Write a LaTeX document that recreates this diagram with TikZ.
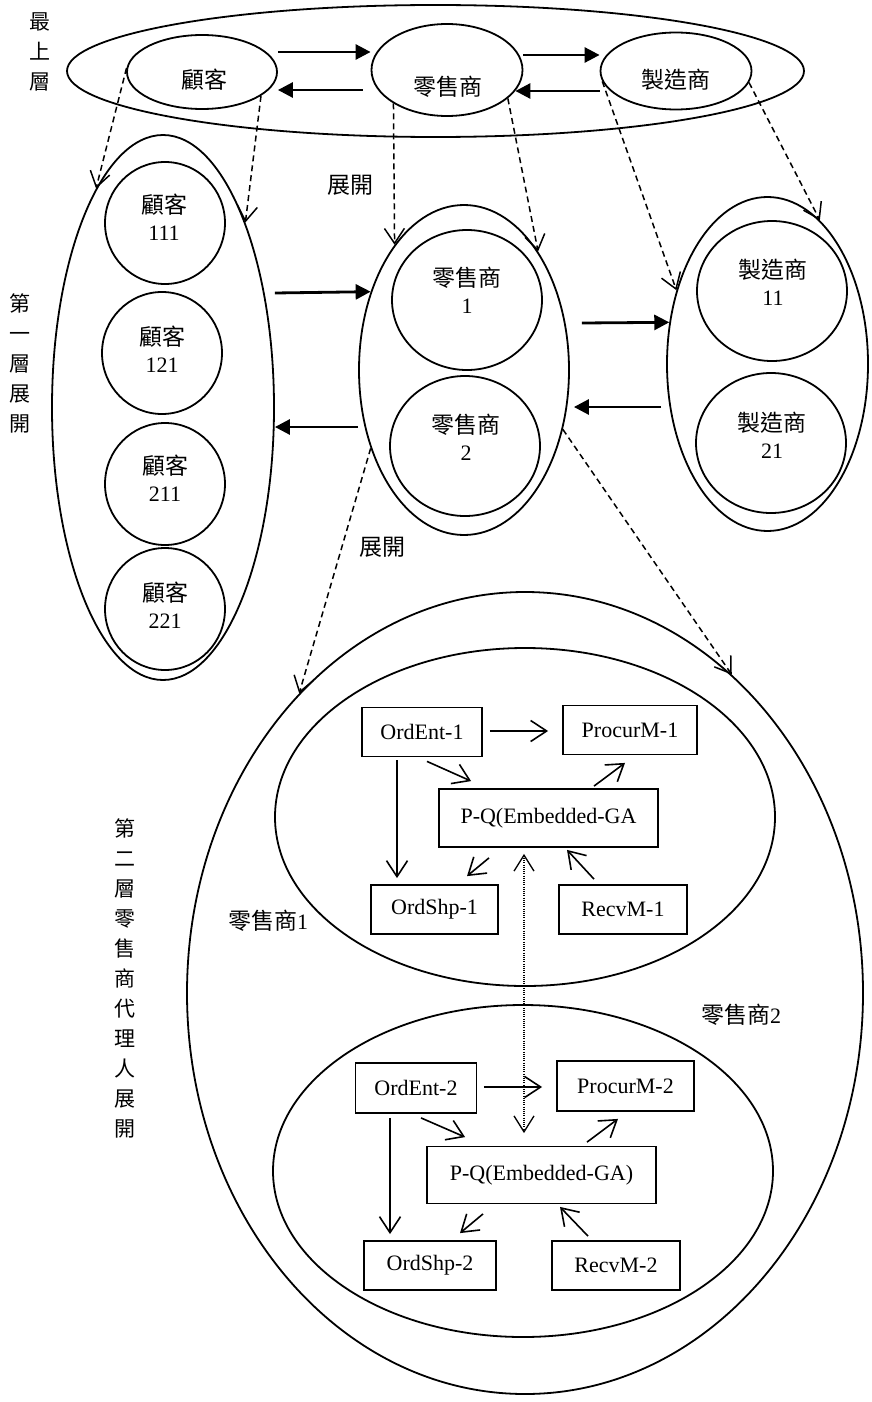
\documentclass[tikz,border=0pt]{standalone}
\usepackage{fontspec}
\setmainfont{Liberation Serif}
\newfontfamily\cjk{Noto Sans CJK TC}
\usetikzlibrary{arrows.meta,calc,shapes.geometric}
\tikzset{
	unit/.style={draw, ellipse, line width=1.8pt, inner sep=0pt},
	box/.style={draw, rectangle, line width=1.8pt, inner sep=0pt, font=\fontsize{22}{24}\selectfont},
	txt/.style={align=center, font=\fontsize{22}{27}\selectfont},
	zh/.style={align=center, font=\cjk\fontsize{23}{27}\selectfont},
	vtxt/.style={align=center, font=\cjk\fontsize{21}{30}\selectfont},
	bold/.style={line width=2.8pt, -{Triangle[length=15pt,width=15pt]}},
	expand/.style={line width=1.5pt, dash pattern=on 6pt off 4pt, -{Straight Barb[length=15pt,width=20pt]}},
	flow/.style={line width=1.6pt, -{Straight Barb[length=16pt,width=21pt]}},
	link/.style={line width=1.3pt, dash pattern=on 1pt off 1.2pt, {Straight Barb[length=16pt,width=20pt]}-{Straight Barb[length=16pt,width=20pt]}}
}

\begin{document}
\begin{tikzpicture}[x=1pt,y=-1pt]
			%%%%% START %%%%%
			\useasboundingbox (0,0) rectangle (872,1402);
			
			% top level
			\node[unit, minimum width=737pt, minimum height=132pt] (top) at (435.5,71) {};
			\node[unit, minimum width=150pt, minimum height=74pt] (topcust) at (202,72) {};
			\node[unit, minimum width=151pt, minimum height=92pt] (topret) at (447,70) {};
			\node[unit, minimum width=151pt, minimum height=77pt] (topmfr) at (676,71) {};
			\node[zh] (topcusttxt) at (204,80) {顧客};
			\node[zh] (topret txt) at (448,87) {零售商};
			\node[zh] (topmfrtxt) at (676,80) {製造商};
			\node[vtxt] (lvlzero) at (40,52) {最\\上\\層};
			
			\draw[bold] ([yshift=20pt]topcust.east) -- ([yshift=18pt]topret.west);
			\draw[bold] ([shift={(-8pt,-20pt)}]topret.west) -- ([yshift=-18pt]topcust.east);
			\draw[bold] ([yshift=15pt]topret.east) -- ([yshift=16pt]topmfr.west);
			\draw[bold] ([yshift=-20pt]topmfr.west) -- ([shift={(-8pt,-21pt)}]topret.east);
			
			% first level
			\node[unit, minimum width=222pt, minimum height=545pt] (colcust) at (163,407.5) {};
			\node[unit, minimum width=120pt, minimum height=122pt] (c111) at (165,223) {};
			\node[unit, minimum width=120pt, minimum height=122pt] (c121) at (162,353) {};
			\node[unit, minimum width=120pt, minimum height=122pt] (c211) at (165,484) {};
			\node[unit, minimum width=120pt, minimum height=122pt] (c221) at (165,609) {};
			\node[txt] (c111txt) at (164,217) {{\cjk\fontsize{23}{27}\selectfont 顧客}\\111};
			\node[txt] (c121txt) at (162,349) {{\cjk\fontsize{23}{27}\selectfont 顧客}\\121};
			\node[txt] (c211txt) at (165,478) {{\cjk\fontsize{23}{27}\selectfont 顧客}\\211};
			\node[txt] (c221txt) at (165,605) {{\cjk\fontsize{23}{27}\selectfont 顧客}\\221};
			
			\node[unit, minimum width=210pt, minimum height=330pt] (colret) at (464,370) {};
			\node[unit, minimum width=150pt, minimum height=140pt] (r1) at (467,300) {};
			\node[unit, minimum width=150pt, minimum height=140pt] (r2) at (465,446) {};
			\node[txt] (r1txt) at (467,290) {{\cjk\fontsize{23}{27}\selectfont 零售商}\\1};
			\node[txt] (r2txt) at (466,437) {{\cjk\fontsize{23}{27}\selectfont 零售商}\\2};
			
			\node[unit, minimum width=201pt, minimum height=334pt] (colmfr) at (767.5,364) {};
			\node[unit, minimum width=150pt, minimum height=140pt] (m11) at (772,291) {};
			\node[unit, minimum width=150pt, minimum height=140pt] (m21) at (771,443) {};
			\node[txt] (m11txt) at (773,282) {{\cjk\fontsize{23}{27}\selectfont 製造商}\\11};
			\node[txt] (m21txt) at (772,435) {{\cjk\fontsize{23}{27}\selectfont 製造商}\\21};
			
			\node[vtxt] (lvlone) at (20,363) {第\\一\\層\\展\\開};
			\node[zh] (expone) at (350,185) {展開};
			
			\draw[bold] ([yshift=114.5pt]colcust.east) -- (colret.140);
			\draw[bold] ([yshift=-57pt]colret.west) -- ([yshift=-19.5pt]colcust.east);
			\draw[bold] ([shift={(12pt,47pt)}]colret.east) -- (colmfr.157);
			\draw[bold] ([shift={(-5pt,-43pt)}]colmfr.west) -- ([shift={(4pt,-37pt)}]colret.east);
			
			\draw[expand] (topcust.177) -- (colcust.107);
			\draw[expand] (topcust.338) -- (colcust.66);
			\draw[expand] (topret.212) -- (colret.119);
			\draw[expand] (topret.335) -- (colret.58);
			\draw[expand] (topmfr.188) -- (colmfr.141);
			\draw[expand] (topmfr.351) -- (colmfr.70);
			
			% second level
			\node[unit, minimum width=676pt, minimum height=802pt] (outer) at (525,993) {};
			\node[unit, minimum width=500pt, minimum height=338pt] (in1) at (525,817) {};
			\node[unit, minimum width=500pt, minimum height=332pt] (in2) at (523,1171) {};
			\node[zh] (exptwo) at (382,547) {展開};
			\node[txt] (in1txt) at (268,921) {{\cjk\fontsize{23}{27}\selectfont 零售商}1};
			\node[txt] (in2txt) at (741,1015) {{\cjk\fontsize{23}{27}\selectfont 零售商}2};
			\node[vtxt] (lvltwo) at (125,978) {第\\二\\層\\零\\售\\商\\代\\理\\人\\展\\開};
			
			\draw[expand] (colret.220) -- (outer.127);
			\draw[expand] (colret.329) -- (outer.57);
			
			\node[box, minimum width=120pt, minimum height=49pt] (e1) at (422,732) {OrdEnt-1};
			\node[box, minimum width=134pt, minimum height=49pt] (p1) at (630,730) {ProcurM-1};
			\node[box, minimum width=219pt, minimum height=58pt] (q1) at (548.5,818) {P-Q(Embedded-GA};
			\node[box, minimum width=127pt, minimum height=49pt] (s1) at (434.5,909.5) {OrdShp-1};
			\node[box, minimum width=128pt, minimum height=49pt] (v1) at (623,909.5) {RecvM-1};
			
			\draw[flow] ([shift={(7pt,1pt)}]e1.east) -- ([shift={(-14pt,-1pt)}]p1.west);
			\draw[flow] ([shift={(5pt,-4pt)}]e1.south) -- ([shift={(33pt,7pt)}]q1.north west);
			\draw[flow] ([shift={(-25pt,-3pt)}]e1.south) -- ([shift={(-37.5pt,6pt)}]s1.north);
			\draw[flow] ([shift={(45.5pt,2pt)}]q1.north) -- ([shift={(-5pt,-7.5pt)}]p1.south);
			\draw[flow] ([shift={(-59.5pt,-10pt)}]q1.south) -- ([shift={(32.5pt,8pt)}]s1.north);
			\draw[flow] ([shift={(-29pt,5pt)}]v1.north) -- ([shift={(18.5pt,-2pt)}]q1.south);
			
			\node[box, minimum width=121pt, minimum height=50pt] (e2) at (416,1088) {OrdEnt-2};
			\node[box, minimum width=137pt, minimum height=50pt] (p2) at (625.5,1086) {ProcurM-2};
			\node[box, minimum width=229pt, minimum height=57pt] (q2) at (541.5,1175) {P-Q(Embedded-GA)};
			\node[box, minimum width=132pt, minimum height=49pt] (s2) at (430,1265.5) {OrdShp-2};
			\node[box, minimum width=128pt, minimum height=49pt] (v2) at (616,1265.5) {RecvM-2};
			
			\draw[flow] ([shift={(6.5pt,1pt)}]e2.east) -- ([shift={(-14pt,-1pt)}]p2.west);
			\draw[flow] ([shift={(5pt,-4pt)}]e2.south) -- ([shift={(39pt,8.5pt)}]q2.north west);
			\draw[flow] ([shift={(-26pt,-4pt)}]e2.south) -- ([shift={(-40pt,6pt)}]s2.north);
			\draw[flow] ([shift={(45.5pt,3.5pt)}]q2.north) -- ([shift={(-7.5pt,-7pt)}]p2.south);
			\draw[flow] ([shift={(-58.5pt,-9.5pt)}]q2.south) -- ([shift={(30pt,7pt)}]s2.north);
			\draw[flow] ([shift={(-28pt,4pt)}]v2.north) -- ([shift={(18.5pt,-2.5pt)}]q2.south);
			
			\draw[link] ([shift={(-24.5pt,-6pt)}]q1.south) -- ([shift={(-17.5pt,12.5pt)}]q2.north);
			
			%%%%% END %%%%%
\end{tikzpicture}
\end{document}
